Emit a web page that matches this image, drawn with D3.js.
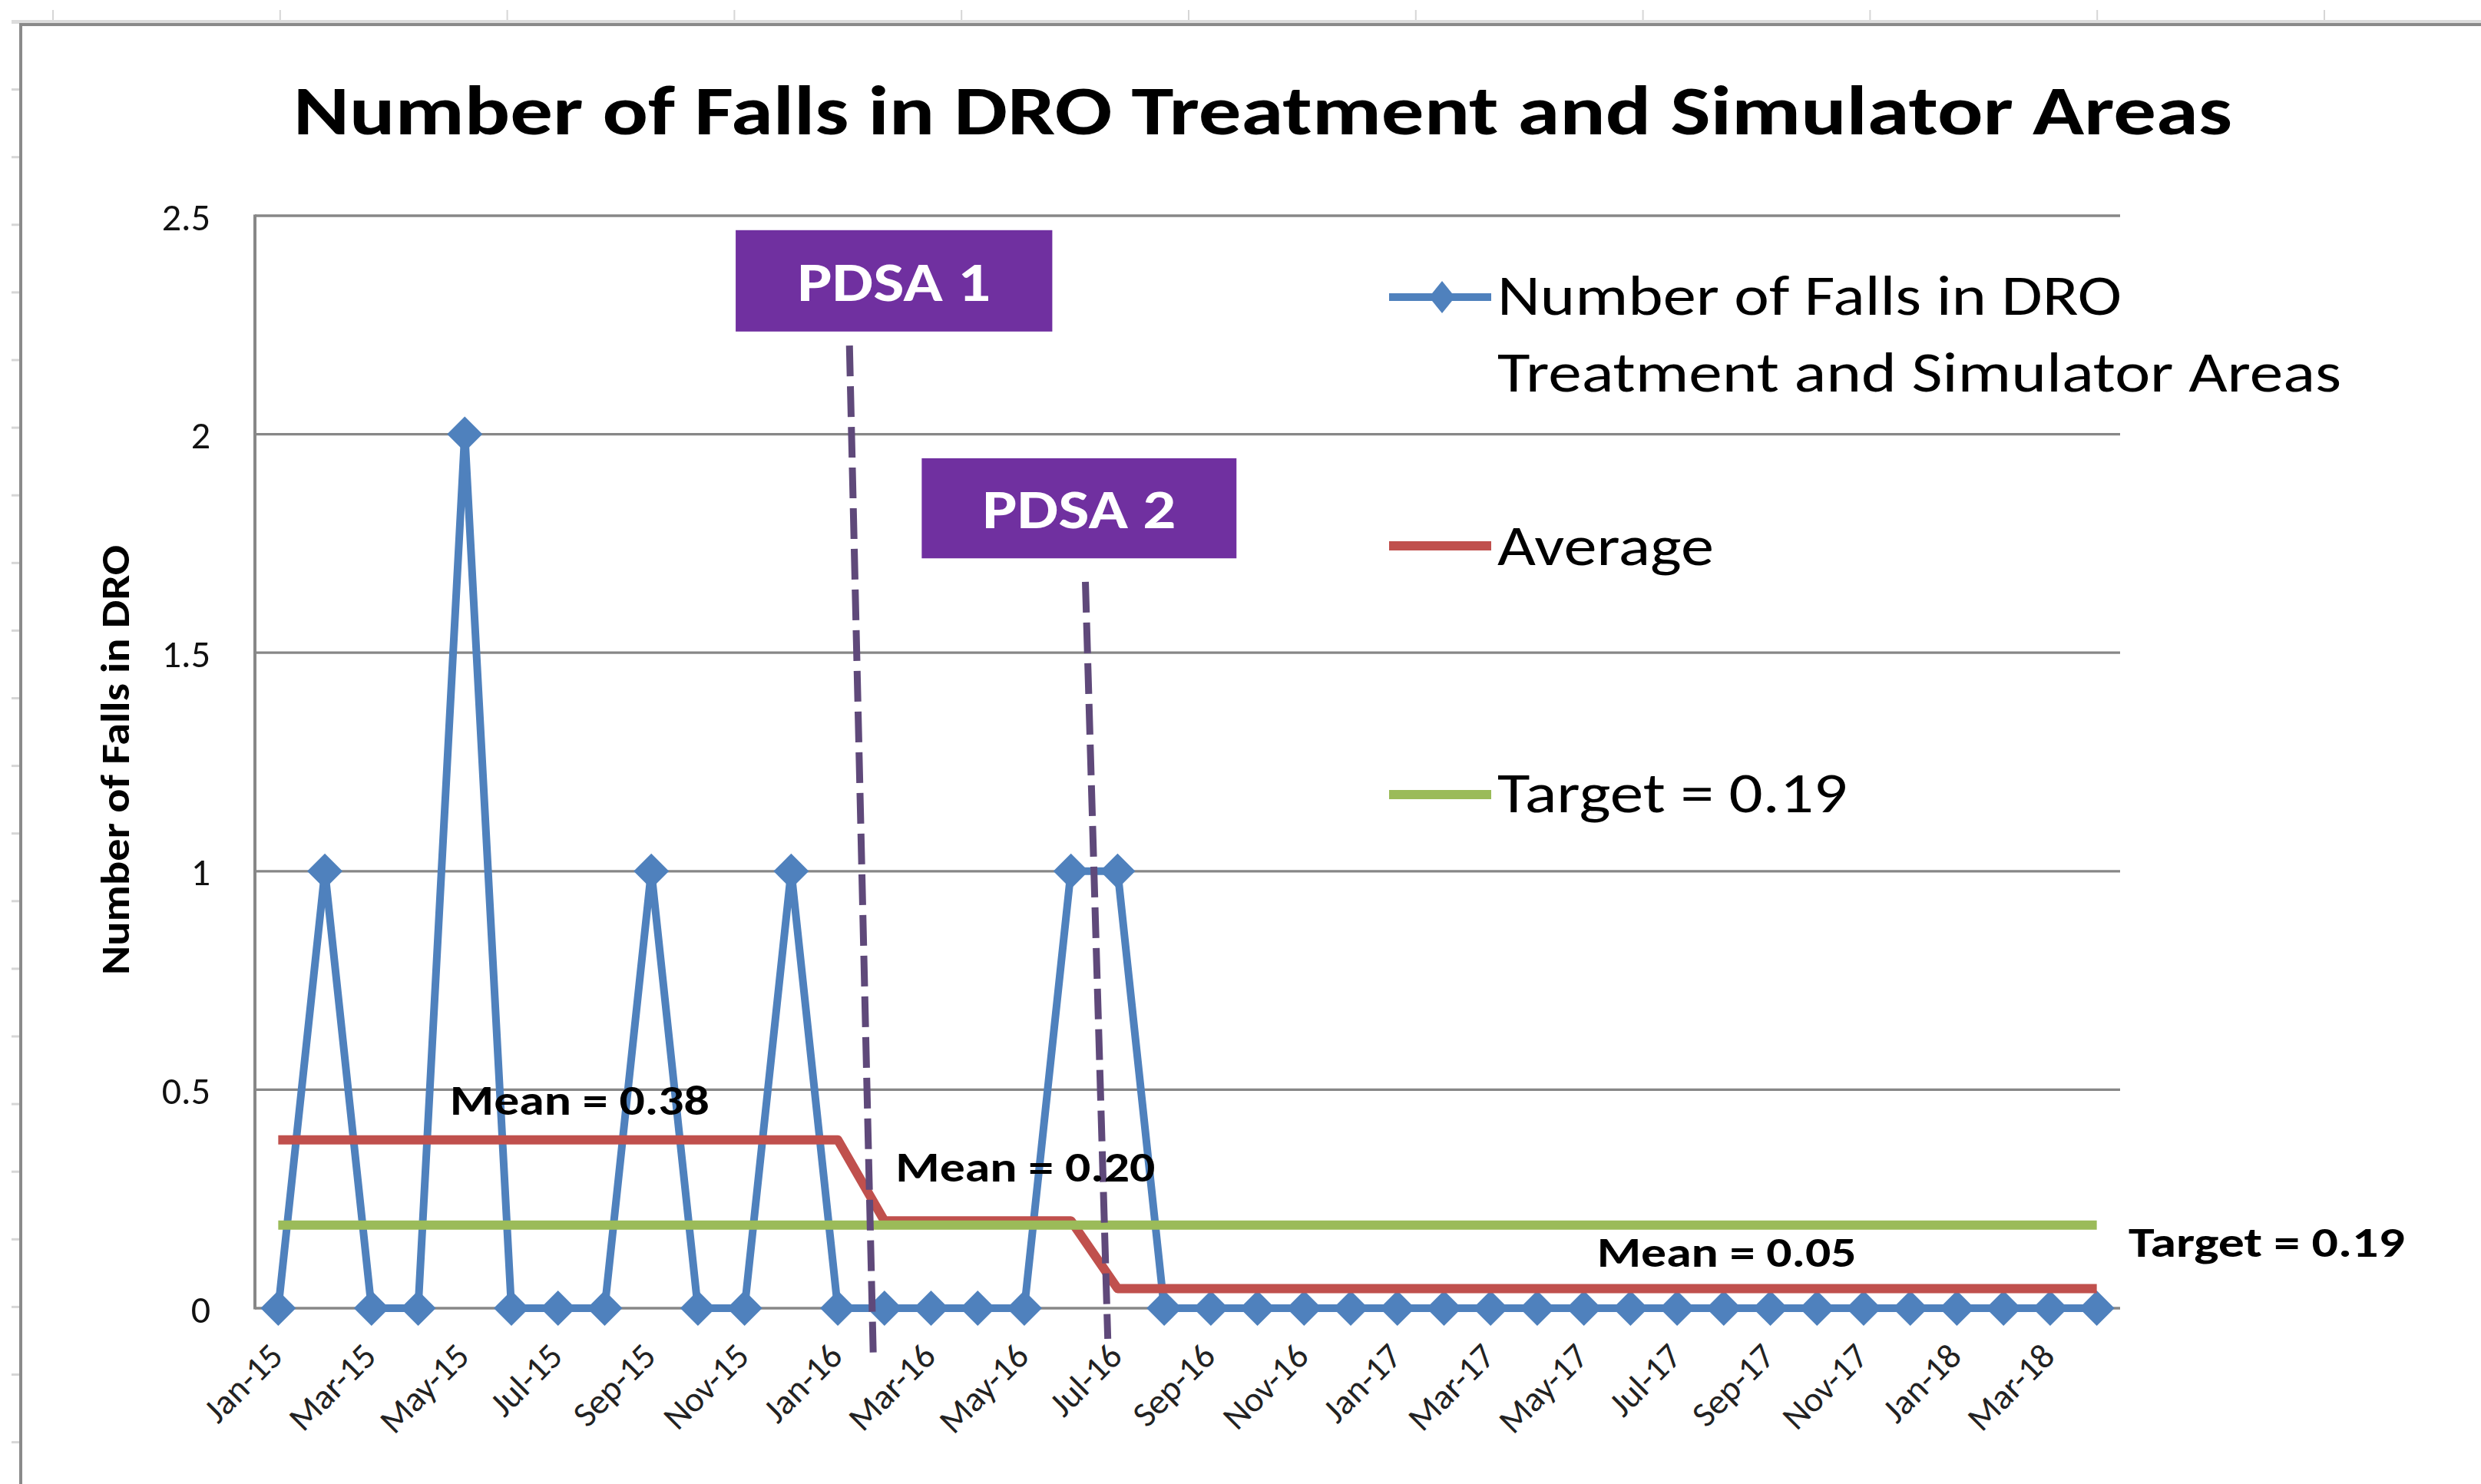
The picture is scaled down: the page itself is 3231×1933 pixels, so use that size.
<!DOCTYPE html>
<html><head><meta charset="utf-8">
<script src="https://cdn.jsdelivr.net/npm/d3@7"></script>
<style>html,body{margin:0;padding:0;background:#fff;overflow:hidden} svg{display:block}</style>
</head><body>
<svg id="chart" width="3231" height="1933"></svg>
<script>
// ---------------- DATA ----------------
const months = ["Jan-15","Feb-15","Mar-15","Apr-15","May-15","Jun-15","Jul-15","Aug-15","Sep-15","Oct-15","Nov-15","Dec-15",
"Jan-16","Feb-16","Mar-16","Apr-16","May-16","Jun-16","Jul-16","Aug-16","Sep-16","Oct-16","Nov-16","Dec-16",
"Jan-17","Feb-17","Mar-17","Apr-17","May-17","Jun-17","Jul-17","Aug-17","Sep-17","Oct-17","Nov-17","Dec-17",
"Jan-18","Feb-18","Mar-18","Apr-18"];
const falls = [0,1,0,0,2,0,0,0,1,0,0,1,
               0,0,0,0,0,1,1,0,0,0,0,0,
               0,0,0,0,0,0,0,0,0,0,0,0,
               0,0,0,0];
const average = [0.385,0.385,0.385,0.385,0.385,0.385,0.385,0.385,0.385,0.385,0.385,0.385,
                 0.385,0.2,0.2,0.2,0.2,0.2,0.045,0.045,0.045,0.045,0.045,0.045,
                 0.045,0.045,0.045,0.045,0.045,0.045,0.045,0.045,0.045,0.045,0.045,0.045,
                 0.045,0.045,0.045,0.045];
const target = [0.19,0.19,0.19,0.19,0.19,0.19,0.19,0.19,0.19,0.19,0.19,0.19,
                0.19,0.19,0.19,0.19,0.19,0.19,0.19,0.19,0.19,0.19,0.19,0.19,
                0.19,0.19,0.19,0.19,0.19,0.19,0.19,0.19,0.19,0.19,0.19,0.19,
                0.19,0.19,0.19,0.19];
const yTicks = [0, 0.5, 1, 1.5, 2, 2.5];
const yTickLabels = ["0", "0.5", "1", "1.5", "2", "2.5"];
const xTickLabels = ["Jan-15","Mar-15","May-15","Jul-15","Sep-15","Nov-15","Jan-16","Mar-16","May-16","Jul-16",
                     "Sep-16","Nov-16","Jan-17","Mar-17","May-17","Jul-17","Sep-17","Nov-17","Jan-18","Mar-18"];
const legendLines = [["Number of Falls in DRO", "Treatment and Simulator Areas"], ["Average"], ["Target = 0.19"]];
const titleText = "Number of Falls in DRO Treatment and Simulator Areas";
const yTitle = "Number of Falls in DRO";
// annotations anchored in data units (category index, value)
const meanLabels = [
  {text: "Mean = 0.38", i: 3.68, v: 0.443},
  {text: "Mean = 0.20", i: 13.24, v: 0.29},
  {text: "Mean = 0.05", i: 28.28, v: 0.095},
  {text: "Target = 0.19", i: 39.68, v: 0.118}
];
const pdsa = [
  {label: "PDSA 1", i0: 9.81, i1: 16.6, v0: 2.467, v1: 2.235, li0: 12.25, lv0: 2.203, li1: 12.76, lv1: -0.105},
  {label: "PDSA 2", i0: 13.8, i1: 20.55, v0: 1.945, v1: 1.716, li0: 17.31, lv0: 1.662, li1: 17.79, lv1: -0.07}
];

// ---------------- LAYOUT ----------------
const W = 3231, H = 1933;
const plot = {left: 332, right: 2761, top: 281, bottom: 1704};
const FONT = "Carlito, Lato, 'Open Sans', sans-serif";
const C = {blue: "#4F81BD", red: "#C0504D", green: "#9BBB59", grid: "#878787", purple: "#7030A0", dash: "#5F497A"};

const svg = d3.select("#chart");
svg.append("rect").attr("width", W).attr("height", H).attr("fill", "#fff");

// spreadsheet background
const bg = svg.append("g");
bg.append("rect").attr("x", 15).attr("y", 26).attr("width", W - 15).attr("height", 5).attr("fill", "#dcdcdc");
bg.selectAll(".colTick").data(d3.range(69, W, 295.8)).join("line")
  .attr("x1", d => d).attr("x2", d => d).attr("y1", 13).attr("y2", 26)
  .attr("stroke", "#d6d6d6").attr("stroke-width", 2);
bg.selectAll(".rowTick").data(d3.range(116.6, H, 88.1)).join("line")
  .attr("x1", 15).attr("x2", 25).attr("y1", d => d).attr("y2", d => d)
  .attr("stroke", "#d6d6d6").attr("stroke-width", 3);
bg.append("path").attr("d", `M27,${H} V32 H${W}`).attr("fill", "none")
  .attr("stroke", "#8a8a8a").attr("stroke-width", 4);

// scales
const x = d3.scalePoint().domain(months).range([plot.left, plot.right]).padding(0.5);
const xi = d3.scaleLinear().domain([0, months.length - 1]).range([x(months[0]), x(months[months.length - 1])]);
const y = d3.scaleLinear().domain([0, 2.5]).range([plot.bottom, plot.top]);

// title
svg.append("text").attr("x", 382).attr("y", 175)
  .attr("font-family", FONT).attr("font-weight", "bold").attr("font-size", 91)
  .attr("textLength", 2525).attr("lengthAdjust", "spacingAndGlyphs")
  .attr("fill", "#000").text(titleText);

// gridlines
svg.append("g").selectAll("line").data(yTicks).join("line")
  .attr("x1", plot.left).attr("x2", plot.right)
  .attr("y1", d => y(d)).attr("y2", d => y(d))
  .attr("stroke", C.grid).attr("stroke-width", 3.3);
svg.append("line").attr("x1", plot.left).attr("x2", plot.left)
  .attr("y1", y(2.5) - 1.6).attr("y2", y(0) + 1.6)
  .attr("stroke", C.grid).attr("stroke-width", 4);

// y axis
const yAxis = svg.append("g").attr("transform", `translate(${plot.left},0)`)
  .call(d3.axisLeft(y).tickValues(yTicks).tickSize(0).tickPadding(58)
    .tickFormat((d, i) => yTickLabels[i]));
yAxis.select(".domain").remove();
yAxis.selectAll("text").attr("font-family", FONT).attr("font-size", 50).attr("fill", "#111").attr("dy", "0.36em");

// x axis
const xAxis = svg.append("g").attr("transform", `translate(0,${plot.bottom})`)
  .call(d3.axisBottom(x).tickValues(xTickLabels).tickSize(0));
xAxis.select(".domain").remove();
const xt = xAxis.selectAll("text")
  .attr("font-family", FONT).attr("font-size", 46).attr("fill", "#222")
  .attr("text-anchor", "end").attr("dy", 0).attr("y", 0)
  .attr("transform", "translate(8,65) rotate(-45)");
// match the reference label length ("Mar-15" about 138 px long)
let refLen = 0;
xt.each(function(d) { if (d === "Mar-15") refLen = this.getComputedTextLength(); });
const kx = refLen > 0 ? 138 / refLen : 1;
xt.each(function() {
  const L = this.getComputedTextLength();
  d3.select(this).attr("textLength", L * kx).attr("lengthAdjust", "spacingAndGlyphs");
});

// y title
svg.append("text").attr("transform", "translate(168,990) rotate(-90)")
  .attr("text-anchor", "middle")
  .attr("font-family", FONT).attr("font-weight", "bold").attr("font-size", 52)
  .attr("textLength", 560).attr("lengthAdjust", "spacingAndGlyphs")
  .attr("fill", "#000").text(yTitle);

// series
const line = d3.line().x((d, i) => x(months[i])).y(d => y(d));
const diamond = "M0,-23L23,0L0,23L-23,0Z";
svg.append("path").datum(falls).attr("d", line).attr("fill", "none")
  .attr("stroke", C.blue).attr("stroke-width", 10).attr("stroke-linejoin", "round");
svg.append("g").selectAll("path").data(falls).join("path")
  .attr("d", diamond).attr("transform", (d, i) => `translate(${x(months[i])},${y(d)})`)
  .attr("fill", C.blue);
svg.append("path").datum(average).attr("d", line).attr("fill", "none")
  .attr("stroke", C.red).attr("stroke-width", 12).attr("stroke-linejoin", "round");
svg.append("path").datum(target).attr("d", line).attr("fill", "none")
  .attr("stroke", C.green).attr("stroke-width", 12);

// PDSA dashed lines and boxes
const pg = svg.append("g");
pg.selectAll("line").data(pdsa).join("line")
  .attr("x1", d => xi(d.li0)).attr("y1", d => y(d.lv0))
  .attr("x2", d => xi(d.li1)).attr("y2", d => y(d.lv1))
  .attr("stroke", C.dash).attr("stroke-width", 9).attr("stroke-dasharray", "40,13");
pg.selectAll("rect").data(pdsa).join("rect")
  .attr("x", d => xi(d.i0)).attr("y", d => y(d.v0))
  .attr("width", d => xi(d.i1) - xi(d.i0)).attr("height", d => y(d.v1) - y(d.v0))
  .attr("fill", C.purple);
pg.selectAll("text").data(pdsa).join("text")
  .attr("x", d => (xi(d.i0) + xi(d.i1)) / 2).attr("y", d => (y(d.v0) + y(d.v1)) / 2 + 26)
  .attr("text-anchor", "middle")
  .attr("font-family", FONT).attr("font-weight", "bold").attr("font-size", 73)
  .attr("textLength", 252).attr("lengthAdjust", "spacingAndGlyphs")
  .attr("fill", "#fff").text(d => d.label);

// mean labels
svg.append("g").selectAll("text").data(meanLabels).join("text")
  .attr("x", d => xi(d.i)).attr("y", d => y(d.v))
  .attr("font-family", FONT).attr("font-weight", "bold").attr("font-size", 54)
  .attr("textLength", d => d.text.startsWith("Target") ? 360 : 338).attr("lengthAdjust", "spacingAndGlyphs")
  .attr("fill", "#000").text(d => d.text);

// legend
const legendItems = [
  {lines: legendLines[0], color: C.blue, marker: true, lineY: 387, base: 410, widths: [813, 1099]},
  {lines: legendLines[1], color: C.red, marker: false, lineY: 711, base: 736, widths: [282]},
  {lines: legendLines[2], color: C.green, marker: false, lineY: 1035, base: 1058, widths: [456]}
];
const lg = svg.append("g");
legendItems.forEach(it => {
  lg.append("line").attr("x1", 1809).attr("x2", 1942).attr("y1", it.lineY).attr("y2", it.lineY)
    .attr("stroke", it.color).attr("stroke-width", it.marker ? 10 : 12);
  if (it.marker) lg.append("path").attr("d", "M0,-21L17,0L0,21L-17,0Z")
    .attr("transform", `translate(1878,${it.lineY})`).attr("fill", it.color);
  it.lines.forEach((t, k) => {
    lg.append("text").attr("x", 1950).attr("y", it.base + k * 100)
      .attr("font-family", FONT).attr("font-size", 75)
      .attr("textLength", it.widths[k]).attr("lengthAdjust", "spacingAndGlyphs")
      .attr("fill", "#000").text(t);
  });
});
</script>
</body></html>
